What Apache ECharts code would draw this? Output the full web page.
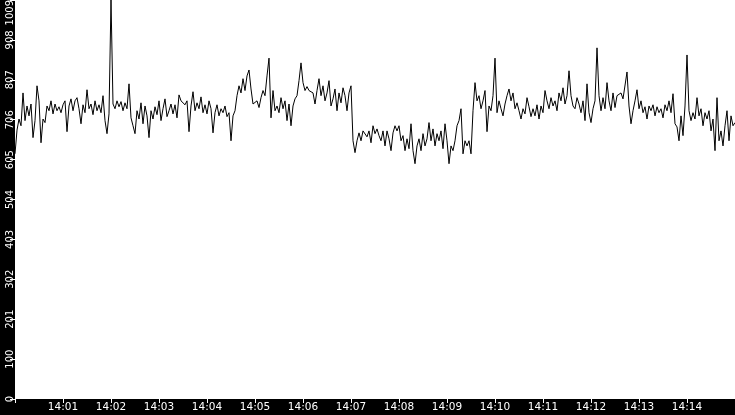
<!DOCTYPE html>
<html>
<head>
<meta charset="utf-8">
<script src="https://cdn.jsdelivr.net/npm/echarts@6/dist/echarts.min.js"></script>
<style>
  html, body { margin: 0; padding: 0; background: #000; overflow: hidden; }
  #chart { width: 735px; height: 415px; }
</style>
</head>
<body>
<div id="chart"></div>
<script>
// one sample every 2.5 s, 14:00:00 .. 14:15:00
const startLabel = '14:00';
const stepSeconds = 2.5;
const xTickLabels = ['14:01', '14:02', '14:03', '14:04', '14:05', '14:06', '14:07',
  '14:08', '14:09', '14:10', '14:11', '14:12', '14:13', '14:14'];
const yMax = 1009;
const yStep = 100.9;

const samples = [
  // 14:00
  620, 680, 708, 691, 774, 704, 741, 716, 746, 661, 704, 792, 754, 648, 708, 699, 741, 729, 754, 721, 746, 729, 739, 724,
  // 14:01
  744, 754, 676, 741, 759, 729, 754, 762, 734, 696, 744, 724, 782, 734, 746, 719, 754, 729, 744, 724, 767, 704, 671, 721,
  // 14:02
  1009, 746, 734, 754, 739, 752, 729, 749, 734, 797, 711, 691, 671, 729, 708, 749, 696, 741, 716, 661, 729, 708, 739, 719,
  // 14:03
  754, 704, 734, 759, 714, 729, 746, 721, 744, 711, 769, 754, 759, 744, 754, 676, 741, 777, 729, 749, 734, 764, 724, 744,
  // 14:04
  721, 754, 734, 673, 724, 744, 716, 734, 724, 741, 714, 724, 653, 716, 729, 767, 792, 774, 810, 780, 817, 832, 784, 746,
  // 14:05
  741, 754, 737, 762, 780, 767, 817, 862, 711, 780, 729, 741, 724, 762, 734, 754, 704, 746, 691, 741, 759, 767, 805, 850,
  // 14:06
  800, 780, 790, 780, 784, 774, 746, 780, 810, 767, 792, 754, 774, 805, 741, 759, 784, 729, 774, 749, 787, 767, 729, 774,
  // 14:07
  792, 653, 623, 653, 673, 653, 678, 683, 663, 678, 648, 691, 671, 683, 666, 653, 678, 640, 678, 658, 628, 673, 691, 678,
  // 14:08
  691, 653, 666, 628, 658, 633, 696, 628, 595, 640, 658, 628, 671, 640, 658, 699, 653, 683, 640, 671, 653, 678, 633, 696,
  // 14:09
  653, 595, 640, 628, 653, 691, 704, 734, 620, 653, 640, 653, 620, 729, 800, 754, 767, 734, 754, 780, 676, 741, 729, 767,
  // 14:10
  862, 724, 754, 734, 716, 746, 767, 784, 754, 774, 734, 749, 729, 708, 734, 721, 762, 739, 714, 734, 716, 744, 708, 741,
  // 14:11
  724, 780, 754, 734, 762, 741, 754, 729, 774, 754, 787, 746, 767, 830, 767, 741, 734, 762, 746, 724, 754, 704, 797, 724,
  // 14:12
  699, 734, 754, 888, 767, 729, 762, 734, 800, 754, 729, 774, 737, 767, 762, 774, 759, 754, 827, 741, 696, 729, 754, 782,
  // 14:13
  734, 754, 724, 739, 708, 741, 729, 744, 716, 739, 724, 734, 711, 744, 729, 754, 724, 772, 696, 688, 653, 716, 666, 741,
  // 14:14
  870, 729, 704, 724, 708, 762, 716, 734, 691, 724, 708, 729, 678, 708, 628, 762, 653, 678, 640, 691, 729, 653, 716, 691,
  // 14:15
  699
];

const chart = echarts.init(document.getElementById('chart'), null, { renderer: 'canvas' });
const fontFamily = 'DejaVu Sans';

const option = {
  backgroundColor: '#000',
  animation: false,
  grid: {
    left: 15,
    right: 0,
    top: 0,
    bottom: 16,
    outerBoundsMode: 'none',
    containLabel: false,
    show: true,
    backgroundColor: '#fff',
    borderWidth: 0
  },
  xAxis: {
    type: 'value',
    min: 0,
    max: (xTickLabels.length + 1) * 60,
    interval: 60,
    axisLine: { show: false },
    axisTick: { show: true, length: 4, lineStyle: { color: '#fff', width: 1 } },
    splitLine: { show: false },
    axisLabel: {
      color: '#fff',
      fontFamily: fontFamily,
      fontSize: 10.5,
      margin: 3,
      formatter: function (v) {
        const m = Math.round(v / 60);
        return m >= 1 && m <= xTickLabels.length ? xTickLabels[m - 1] : '';
      }
    }
  },
  yAxis: {
    type: 'value',
    min: 0,
    max: yMax,
    interval: yStep,
    axisLine: { show: false },
    axisTick: { show: true, length: 5, lineStyle: { color: '#fff', width: 1 } },
    splitLine: { show: false },
    axisLabel: {
      color: '#fff',
      fontFamily: fontFamily,
      fontSize: 10,
      rotate: 90,
      margin: 0,
      alignMaxLabel: 'right',
      formatter: function (v) { return String(Math.floor(v + 1e-6)); }
    }
  },
  series: [{
    name: startLabel,
    type: 'line',
    showSymbol: false,
    symbol: 'none',
    lineStyle: { color: '#000', width: 1 },
    data: samples.map(function (v, i) { return [i * stepSeconds, v]; })
  }]
};

chart.setOption(option);
</script>
</body>
</html>
